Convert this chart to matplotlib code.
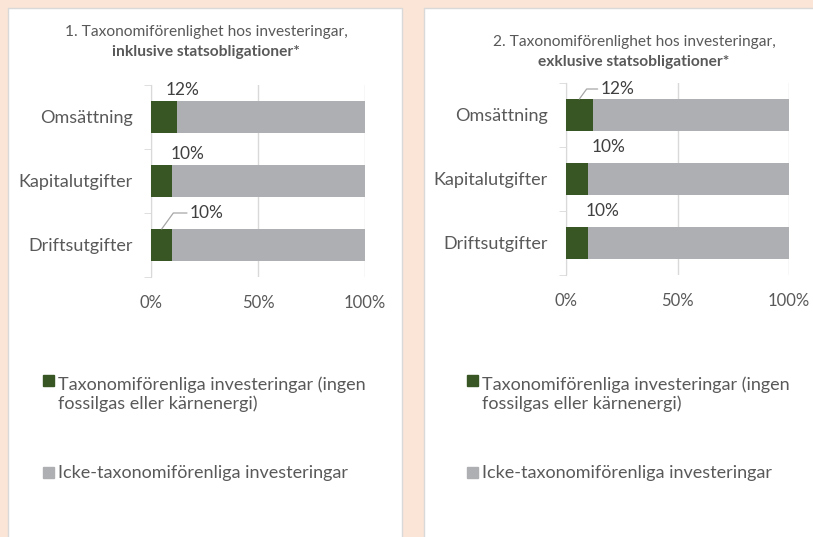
import matplotlib.pyplot as plt
from matplotlib.patches import Rectangle

plt.rcParams['font.family'] = ['Lato', 'DejaVu Sans']

categories = ['Omsättning', 'Kapitalutgifter', 'Driftsutgifter']
aligned_incl = [12, 10, 10]
aligned_excl = [12, 10, 10]
total = [100, 100, 100]
xticks = [0, 50, 100]
xticklabels = ['0%', '50%', '100%']

title_1 = '1. Taxonomiförenlighet hos investeringar,'
title_1b = 'inklusive statsobligationer*'
title_2 = '2. Taxonomiförenlighet hos investeringar,'
title_2b = 'exklusive statsobligationer*'
legend_green = 'Taxonomiförenliga investeringar (ingen\nfossilgas eller kärnenergi)'
legend_grey = 'Icke-taxonomiförenliga investeringar'

GREEN = '#375623'
GREY = '#AEAFB2'
TEXT = '#595959'
BG = '#FBE5D6'

W, H = 813, 537
fig = plt.figure(figsize=(W / 100, H / 100), dpi=100)
fig.patch.set_facecolor(BG)


def px_rect(x0, y0, x1, y1):
    # pixel box (top-left origin) -> figure fraction rect
    return [x0 / W, 1 - y1 / H, (x1 - x0) / W, (y1 - y0) / H]


# white panels
for x0, x1 in [(8, 402), (424, 830)]:
    fig.add_artist(Rectangle((x0 / W, -0.05), (x1 - x0) / W, 1.05 - 8 / H,
                             transform=fig.transFigure, facecolor='white',
                             edgecolor='#D9D9D9', lw=1, zorder=0))


def panel(rect, values, labels_layout, title_a, title_b, title_xy, legend_x, leg_y):
    ax = fig.add_axes(px_rect(*rect))
    ax.set_facecolor('none')
    ypos = list(range(len(categories)))
    rest = [t - v for t, v in zip(total, values)]
    ax.barh(ypos, values, height=0.5, color=GREEN, zorder=3)
    ax.barh(ypos, rest, left=values, height=0.5, color=GREY, zorder=3)
    ax.set_xlim(0, 100)
    ax.set_ylim(2.5, -0.5)
    ax.set_yticks(ypos)
    ax.set_yticklabels(categories, fontsize=13, color=TEXT)
    ax.set_yticks([-0.5, 0.5, 1.5, 2.5], minor=True)
    ax.tick_params(axis='y', which='major', length=0, pad=13)
    ax.tick_params(axis='y', which='minor', length=5, color='#D9D9D9')
    ax.set_xticks(xticks)
    ax.set_xticklabels(xticklabels, fontsize=12, color=TEXT)
    ax.tick_params(axis='x', length=0, pad=13)
    ax.grid(axis='x', color='#D9D9D9', lw=1, zorder=0)
    for s in ['top', 'right', 'bottom']:
        ax.spines[s].set_visible(False)
    ax.spines['left'].set_color('#D9D9D9')

    for i, (v, (dx, dy, leader)) in enumerate(zip(values, labels_layout)):
        if leader:
            ax.annotate(f'{v}%', xy=(v / 2, i - 0.25), xytext=(dx, dy),
                        textcoords='offset pixels', ha='center', va='center',
                        fontsize=12.5, color='#404040',
                        arrowprops=dict(arrowstyle='-', color='#A6A6A6', lw=0.9,
                                        shrinkA=0, shrinkB=0,
                                        connectionstyle='angle,angleA=0,angleB=54,rad=0'))
        else:
            ax.annotate(f'{v}%', xy=(v, i - 0.25), xytext=(dx, dy),
                        textcoords='offset pixels', ha='center', va='center',
                        fontsize=12.5, color='#404040')

    tx, ty = title_xy
    fig.text(tx / W, 1 - ty / H, title_a, ha='center', va='center', fontsize=11.2, color=TEXT)
    fig.text(tx / W, 1 - (ty + 20) / H, title_b, ha='center', va='center', fontsize=11.2,
             color=TEXT, fontweight='bold')

    # legend (leg_y = baseline of first line; baseline va uses the last line)
    fig.add_artist(Rectangle(((legend_x - 15) / W, 1 - (leg_y - 2) / H), 11 / W, 11 / H,
                             transform=fig.transFigure, color=GREEN))
    fig.text(legend_x / W, 1 - (leg_y + 21) / H, legend_green, ha='left', va='baseline',
             fontsize=13, color=TEXT, linespacing=1.17)
    fig.add_artist(Rectangle(((legend_x - 15) / W, 1 - (leg_y + 90) / H), 11 / W, 11 / H,
                             transform=fig.transFigure, color=GREY))
    fig.text(legend_x / W, 1 - (leg_y + 90) / H, legend_grey, ha='left', va='baseline',
             fontsize=13, color=TEXT)
    return ax


# (dx, dy) offsets in pixels from label anchor, leader line flag
layout_1 = [(6, 11, False), (15, 11, False), (45, 16, True)]
layout_2 = [(38, 10, True), (20, 16, False), (14, 16, False)]

panel((151, 85, 365, 277), aligned_incl, layout_1, title_1, title_1b, (206, 32), 58, 388)
panel((566, 83, 789, 275), aligned_excl, layout_2, title_2, title_2b, (634, 42), 482, 388)

fig.savefig('out.png', dpi=100, facecolor=BG)
